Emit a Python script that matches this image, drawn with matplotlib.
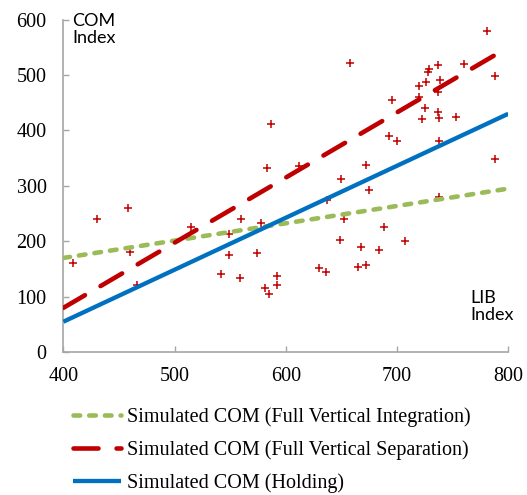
import matplotlib
matplotlib.use("Agg")
import matplotlib.pyplot as plt
import numpy as np

plt.rcParams['lines.scale_dashes'] = False

# ---- data ----
lib_range = [400, 800]
com_integration = [170, 295]
com_separation = [80, 550]
com_holding = [55, 430]

obs_lib = [409, 430, 458, 460, 466, 515, 542, 549, 549, 559, 560, 574, 578, 581,
           583, 585, 587, 592, 592, 612, 630, 636, 637, 649, 650, 652, 658, 665,
           668, 672, 672, 675, 684, 688, 693, 695, 700, 707, 720, 720, 722, 725,
           726, 728, 729, 737, 737, 737, 738, 738, 738, 739, 753, 760, 781, 788, 788]
obs_com = [160, 240, 260, 180, 122, 226, 141, 175, 214, 133, 240, 179, 233, 116,
           333, 105, 411, 137, 121, 335, 151, 145, 275, 202, 313, 241, 522, 154,
           190, 157, 338, 293, 184, 225, 390, 455, 381, 200, 461, 480, 421, 440,
           487, 505, 511, 518, 470, 434, 422, 381, 279, 490, 425, 520, 580, 498, 349]

x_ticks = [400, 500, 600, 700, 800]
y_ticks = [0, 100, 200, 300, 400, 500, 600]

labels = ["Simulated COM (Full Vertical Integration)",
          "Simulated COM (Full Vertical Separation)",
          "Simulated COM (Holding)"]

GREEN = "#9BBB59"
RED = "#C00000"
BLUE = "#0070C0"
AXC = "#A6A6A6"

fig = plt.figure(figsize=(5.27, 4.95), dpi=100)
ax = fig.add_axes([0.1203, 0.2885, 0.8442, 0.6721])

ax.scatter(obs_lib, obs_com, marker='+', s=30, color=RED, linewidths=1.1, zorder=2)

l1, = ax.plot(lib_range, com_integration, color=GREEN, lw=3.3,
              dashes=(4.8, 6.5), dash_capstyle='round', zorder=3)
l2, = ax.plot(lib_range, com_separation, color=RED, lw=3.3,
              dashes=(18, 13), dash_capstyle='round', zorder=3)
l3, = ax.plot(lib_range, com_holding, color=BLUE, lw=3.1, solid_capstyle='butt', zorder=3)

ax.set_xlim(400, 800)
ax.set_ylim(0, 600)
ax.set_xticks(x_ticks)
ax.set_yticks(y_ticks)
for s in ['top', 'right']:
    ax.spines[s].set_visible(False)
for s in ['left', 'bottom']:
    ax.spines[s].set_color(AXC)
    ax.spines[s].set_linewidth(1.2)
    ax.spines[s].set_clip_on(False)

ax.tick_params(axis='both', direction='in', length=4, width=1.0, color=AXC,
               labelsize=14.5, labelcolor='black')
ax.tick_params(axis='y', pad=12)
ax.tick_params(axis='x', pad=11)
for lab in ax.get_xticklabels() + ax.get_yticklabels():
    lab.set_fontfamily('Liberation Serif')

ax.text(407.7, 612, "COM\nIndex", family='Lato', fontsize=13, va='top', ha='left',
        linespacing=1.1, clip_on=False)
ax.text(765.8, 113, "LIB\nIndex", family='Lato', fontsize=13, va='top', ha='left',
        linespacing=1.1, clip_on=False)

leg = fig.legend([l1, l2, l3], labels, loc='upper left',
                 bbox_to_anchor=(0.1385, 0.1768), frameon=False,
                 prop={'family': 'Liberation Serif', 'size': 14.5},
                 handlelength=2.4, handletextpad=0.28, labelspacing=0.66,
                 borderaxespad=0, borderpad=0)

fig.savefig("out.png", dpi=100)
